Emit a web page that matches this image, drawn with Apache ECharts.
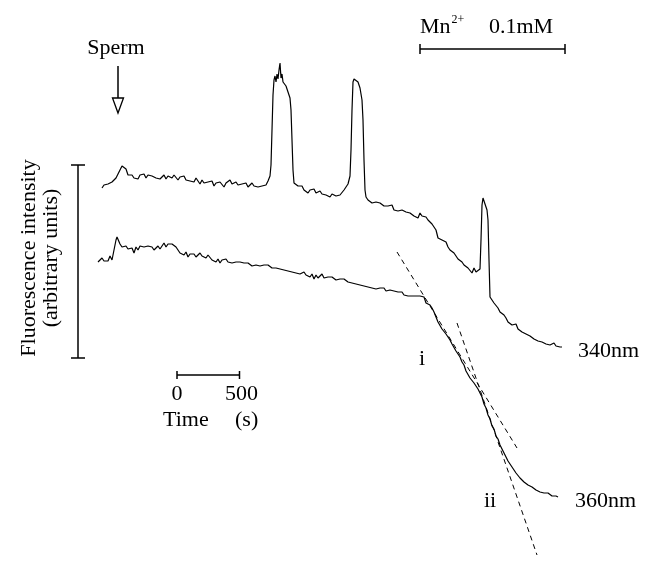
<!DOCTYPE html>
<html><head><meta charset="utf-8">
<script src="https://cdn.jsdelivr.net/npm/echarts@6/dist/echarts.min.js"></script>
<style>html,body{margin:0;padding:0;background:#fff}#c{width:655px;height:562px}</style>
</head><body><div id="c"></div>
<script>
// time in seconds, fluorescence in arbitrary units
const trace340 = [
[16,37.4],[32,37.7],[48,37.6],[64,37.8],[80,37.6],[96,38.0],[112,37.9],[128,38.4],[144,38.6],[160,39.2],
[176,39.6],[192,39.7],[208,39.3],[224,38.7],[240,38.5],[256,38.7],[272,38.4],[288,38.6],[304,38.3],[320,38.7],
[336,38.5],[352,38.8],[368,38.4],[384,38.7],[400,38.5],[416,38.6],[432,38.8],[448,38.4],[464,38.6],[480,38.3],
[496,38.5],[512,38.7],[528,38.3],[544,38.6],[560,38.8],[576,38.4],[592,38.7],[608,38.5],[624,38.2],[640,38.5],
[656,38.3],[672,38.6],[688,38.2],[704,38.4],[720,38.1],[736,38.3],[752,38.0],[768,38.4],[784,38.1],[800,37.8],
[816,38.2],[832,37.9],[848,37.7],[864,38.0],[880,37.8],[896,38.1],[912,37.6],[928,37.9],[944,37.7],[960,38.0],
[976,37.8],[992,37.5],[1008,37.9],[1024,37.7],[1040,38.2],[1056,37.8],[1072,37.6],[1088,38.0],[1104,37.7],[1120,37.5],
[1136,37.8],[1152,37.6],[1168,37.9],[1184,37.5],[1200,37.7],[1216,37.9],[1232,37.6],[1248,37.8],[1264,37.5],[1280,37.7],
[1296,37.6],[1312,37.8],[1328,37.7],[1344,38.1],[1360,38.6],[1368,39.7],[1376,43.2],[1384,46.7],[1392,48.2],[1400,48.6],
[1408,48.0],[1416,48.8],[1424,48.3],[1432,49.2],[1440,49.9],[1448,48.4],[1456,48.8],[1464,48.0],[1472,48.2],[1488,47.6],
[1504,47.0],[1520,46.4],[1528,45.2],[1536,42.2],[1544,39.2],[1552,37.9],[1568,37.7],[1584,37.6],[1600,37.4],[1616,37.6],
[1632,37.2],[1648,37.4],[1664,36.9],[1680,37.2],[1696,37.0],[1712,37.3],[1728,36.9],[1744,36.7],[1760,37.1],[1776,36.8],
[1792,37.0],[1808,36.7],[1824,36.9],[1840,36.5],[1856,36.8],[1872,37.0],[1888,36.6],[1904,36.8],[1920,36.7],[1936,36.9],
[1952,37.2],[1968,37.4],[1984,37.8],[2000,38.6],[2008,41.2],[2016,45.2],[2024,48.0],[2032,48.3],[2048,48.2],[2064,48.0],
[2080,47.4],[2096,46.2],[2104,44.2],[2112,40.2],[2120,37.2],[2128,36.5],[2144,36.2],[2160,36.3],[2176,35.9],[2192,36.1],
[2208,36.0],[2224,35.8],[2240,35.9],[2256,35.7],[2272,35.6],[2288,35.8],[2304,35.6],[2320,35.4],[2336,35.7],[2352,35.2],
[2368,35.4],[2384,35.1],[2400,35.3],[2416,35.2],[2432,35.4],[2448,35.0],[2464,35.1],[2480,34.9],[2496,34.8],[2512,34.6],
[2528,34.7],[2544,34.4],[2560,34.9],[2576,34.6],[2592,34.8],[2608,34.5],[2624,34.2],[2640,34.0],[2656,33.8],[2672,33.7],
[2688,33.2],[2704,32.4],[2720,32.5],[2736,32.2],[2752,32.3],[2768,32.0],[2784,31.5],[2800,31.2],[2816,31.3],[2832,30.9],
[2848,30.6],[2864,30.3],[2880,30.2],[2896,30.0],[2912,29.7],[2928,29.8],[2944,29.4],[2960,29.2],[2976,28.9],[2992,29.4],
[3008,29.0],[3024,29.2],[3040,29.3],[3048,32.2],[3056,35.7],[3064,36.4],[3080,36.3],[3096,35.2],[3104,34.2],[3112,30.2],
[3120,26.5],[3136,26.2],[3152,25.9],[3168,26.0],[3184,25.4],[3200,25.0],[3216,25.2],[3232,24.7],[3248,24.4],[3264,24.0],
[3280,24.2],[3296,23.7],[3312,23.5],[3328,23.8],[3344,23.3],[3360,23.2],[3376,23.0],[3392,23.1],[3408,22.8],[3424,22.7],
[3440,22.6],[3456,22.5],[3472,22.3],[3488,22.4],[3504,22.1],[3520,22.2],[3536,22.0],[3552,22.1],[3568,21.8],[3584,21.9],
[3600,21.7],[3616,21.8],[3632,21.9],[3648,21.6],[3664,21.7],[3680,21.5],[3696,21.5]
];
const trace360 = [
[-16,30.0],[0,30.2],[16,30.4],[32,30.1],[48,30.3],[64,30.1],[80,30.6],[96,30.2],[112,31.2],[128,32.2],
[136,32.5],[144,32.4],[160,31.8],[176,31.5],[192,31.4],[208,31.6],[224,31.3],[240,31.1],[256,31.4],[272,30.9],
[288,31.5],[304,31.2],[320,31.6],[336,31.4],[352,31.5],[368,31.3],[384,31.6],[400,31.4],[416,31.5],[432,31.2],
[448,31.4],[464,31.6],[480,31.3],[496,31.5],[512,31.9],[528,31.5],[544,31.8],[560,31.6],[576,31.8],[592,31.7],
[608,31.5],[624,31.2],[640,30.9],[656,31.1],[672,30.7],[688,31.0],[704,30.5],[720,30.8],[736,30.6],[752,30.8],
[768,30.5],[784,30.7],[800,30.9],[816,30.6],[832,30.8],[848,30.4],[864,30.7],[880,30.5],[896,30.2],[912,30.4],
[928,30.0],[944,30.3],[960,29.9],[976,30.2],[992,30.0],[1008,30.3],[1024,30.0],[1040,30.2],[1056,29.9],[1072,30.1],
[1088,30.0],[1104,29.8],[1120,30.0],[1136,29.8],[1152,29.9],[1168,29.7],[1184,29.9],[1200,29.8],[1216,29.6],[1232,29.8],
[1248,29.7],[1264,29.9],[1280,29.6],[1296,29.8],[1312,29.7],[1328,29.5],[1344,29.7],[1360,29.6],[1376,29.4],[1392,29.6],
[1408,29.4],[1424,29.5],[1440,29.3],[1456,29.4],[1472,29.2],[1488,29.4],[1504,29.1],[1520,29.3],[1536,29.0],[1552,29.2],
[1568,28.9],[1584,29.1],[1600,28.8],[1616,28.6],[1632,29.0],[1648,28.7],[1664,28.9],[1680,28.5],[1696,28.8],[1712,28.3],
[1728,28.7],[1744,28.4],[1760,28.6],[1776,28.8],[1792,28.4],[1808,28.6],[1824,28.5],[1840,28.3],[1856,28.5],[1872,28.4],
[1888,28.2],[1904,28.4],[1920,28.3],[1936,28.1],[1952,28.3],[1968,28.2],[1984,28.0],[2000,28.1],[2016,27.9],[2032,28.0],
[2048,27.8],[2064,27.9],[2080,27.7],[2096,27.8],[2112,27.6],[2128,27.7],[2144,27.5],[2160,27.7],[2176,27.4],[2192,27.6],
[2208,27.3],[2224,27.5],[2240,27.4],[2256,27.2],[2272,27.4],[2288,27.1],[2304,27.3],[2320,27.2],[2336,27.0],[2352,27.1],
[2368,26.9],[2384,27.0],[2400,26.8],[2416,27.0],[2432,26.7],[2448,26.8],[2464,26.6],[2480,26.7],[2496,26.6],[2512,26.5],
[2528,26.6],[2544,26.5],[2560,26.6],[2576,26.7],[2592,26.5],[2600,26.2],[2608,25.9],[2624,26.0],[2640,25.7],[2656,25.4],
[2672,25.0],[2688,24.8],[2704,24.0],[2720,23.8],[2736,23.3],[2752,23.3],[2768,22.8],[2784,22.6],[2800,22.2],[2816,21.8],
[2832,21.6],[2848,21.1],[2864,20.8],[2880,20.5],[2896,20.0],[2912,19.7],[2928,19.1],[2944,18.9],[2960,18.4],[2976,18.3],
[2992,17.9],[3008,17.8],[3024,17.3],[3040,16.9],[3056,16.5],[3072,15.8],[3088,15.4],[3104,14.7],[3120,14.3],[3136,13.6],
[3152,13.3],[3168,12.6],[3184,12.3],[3200,11.7],[3216,11.5],[3232,10.9],[3248,10.7],[3264,10.1],[3280,9.9],[3296,9.5],
[3312,9.4],[3328,8.9],[3344,8.8],[3360,8.4],[3376,8.4],[3392,8.0],[3408,8.1],[3424,7.7],[3440,7.7],[3456,7.5],
[3472,7.5],[3488,7.2],[3504,7.3],[3520,7.0],[3536,7.2],[3552,6.9],[3568,7.0],[3584,6.9],[3600,6.8],[3616,6.6],
[3632,6.8],[3648,6.6],[3664,6.5]
];
const tangentI = [[2376, 31.0], [3336, 11.4]];
const tangentII = [[2856, 23.9], [3496, 0.7]];
const timeBar = [616, 1116];          // seconds: 0 to 500 s scale
const timeBarLevel = 18.7;
const timeTickLabels = ['0', '500'];
const intensityBarTime = -176;
const intensityBar = [20.4, 39.7];
const spermTime = 144;

const FONT = '"Liberation Serif", "Times New Roman", serif';
const chart = echarts.init(document.getElementById('c'), null, {renderer: 'canvas'});
const lineS = (name, data, dashed, w) => ({
  name, type: 'line', data, symbol: 'none', silent: true, animation: false,
  lineStyle: {color: '#000', width: w, type: dashed ? [5, 4] : 'solid'}
});
chart.setOption({
  animation: false,
  backgroundColor: '#fff',
  grid: {left: 0, right: 0, top: 0, bottom: 0},
  xAxis: {type: 'value', min: -800, max: 4440, show: false},
  yAxis: {type: 'value', min: 0, max: 56.2, show: false},
  series: [
    lineS('340nm', trace340, false, 1.2),
    lineS('360nm', trace360, false, 1.2),
    lineS('i', tangentI, true, 1),
    lineS('ii', tangentII, true, 1)
  ]
});
const P = (t, v) => chart.convertToPixel({gridIndex: 0}, [t, v]);
const seg = (x1, y1, x2, y2, w) => ({type: 'line', shape: {x1, y1, x2, y2}, style: {stroke: '#000', lineWidth: w || 1.5}, silent: true});
const txt = (x, y, text, opt) => ({type: 'text', x, y, silent: true, style: Object.assign({text, font: '22px ' + FONT, fill: '#000', textAlign: 'left', textVerticalAlign: 'middle'}, opt || {})});

const tb0 = P(timeBar[0], timeBarLevel), tb1 = P(timeBar[1], timeBarLevel);
const ib0 = P(intensityBarTime, intensityBar[0]), ib1 = P(intensityBarTime, intensityBar[1]);
const sp = P(spermTime, 0);
const g = [];
// time scale bar
g.push(seg(tb0[0], tb0[1], tb1[0], tb1[1]));
g.push(seg(tb0[0], tb0[1] - 4, tb0[0], tb0[1] + 4));
g.push(seg(tb1[0], tb1[1] - 4, tb1[0], tb1[1] + 4));
g.push(txt(tb0[0], tb0[1] + 19, timeTickLabels[0], {textAlign: 'center'}));
g.push(txt(tb1[0] + 2, tb1[1] + 19, timeTickLabels[1], {textAlign: 'center'}));
g.push(txt(163, tb0[1] + 45, 'Time', {}));
g.push(txt(235, tb0[1] + 45, '(s)', {}));
// intensity scale bar
g.push(seg(ib0[0], ib0[1], ib1[0], ib1[1]));
g.push(seg(ib0[0] - 7, ib0[1], ib0[0] + 7, ib0[1]));
g.push(seg(ib1[0] - 7, ib1[1], ib1[0] + 7, ib1[1]));
g.push(txt(29, 258, 'Fluorescence intensity', {textAlign: 'center'}));
g[g.length - 1].rotation = Math.PI / 2;
g.push(txt(51, 258, '(arbitrary units)', {textAlign: 'center'}));
g[g.length - 1].rotation = Math.PI / 2;
// sperm arrow
g.push(txt(116, 48, 'Sperm', {textAlign: 'center'}));
g.push(seg(sp[0], 66, sp[0], 98, 1.5));
g.push({type: 'polygon', silent: true, shape: {points: [[sp[0] - 5.5, 98], [sp[0] + 5.5, 98], [sp[0], 113]]}, style: {fill: '#fff', stroke: '#000', lineWidth: 1.3}});
// Mn bar
g.push(seg(420, 49, 565, 49));
g.push(seg(420, 44, 420, 54));
g.push(seg(565, 44, 565, 54));
g.push({type: 'text', x: 420, y: 27, silent: true, style: {
  text: '{b|Mn}{s|2+}',
  rich: {b: {font: '22px ' + FONT, fill: '#000'}, s: {font: '12px ' + FONT, fill: '#000', verticalAlign: 'top', padding: [0, 0, 14, 1]}},
  textVerticalAlign: 'middle'}});
g.push(txt(489, 27, '0.1mM'));
// labels
g.push(txt(578, 351, '340nm'));
g.push(txt(575, 501, '360nm'));
g.push(txt(422, 359, 'i', {textAlign: 'center'}));
g.push(txt(490, 501, 'ii', {textAlign: 'center'}));
chart.setOption({graphic: g});
</script></body></html>
